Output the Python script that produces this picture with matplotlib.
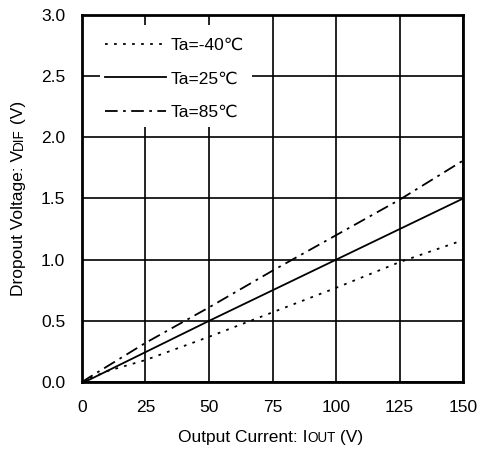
import matplotlib
matplotlib.use("Agg")
import matplotlib.pyplot as plt
from matplotlib.patches import Rectangle

plt.rcParams["font.family"] = ["Liberation Sans", "DejaVu Sans"]

# output current (mA) and dropout voltage (V) per temperature
i_m40 = [0, 3, 10, 25, 50, 75, 100, 125, 150]
v_m40 = [0, 0.03, 0.09, 0.18, 0.37, 0.57, 0.77, 0.98, 1.16]
i_25 = [0, 3, 50, 100, 150]
v_25 = [0, 0.02, 0.50, 1.00, 1.50]
i_85 = [0, 3, 25, 50, 75, 100, 125, 150]
v_85 = [0, 0.04, 0.32, 0.61, 0.91, 1.20, 1.49, 1.81]

x_ticks = [0, 25, 50, 75, 100, 125, 150]
y_ticks = [0.0, 0.5, 1.0, 1.5, 2.0, 2.5, 3.0]

FS = 12.5

fig = plt.figure(figsize=(4.79, 4.49), dpi=100)
ax = fig.add_axes([0.171, 0.149, 0.796, 0.818])

ax.plot(i_m40, v_m40, color="black", lw=1.3, ls=(0, (1.5, 3.5)), label="Ta=-40℃", zorder=3)
ax.plot(i_25, v_25, color="black", lw=1.3, ls="-", label="Ta=25℃", zorder=3)
ax.plot(i_85, v_85, color="black", lw=1.3, ls=(0, (7, 3, 1.5, 3)), label="Ta=85℃", zorder=3)

ax.set_xlim(0, 150)
ax.set_ylim(0, 3.0)
ax.set_xticks(x_ticks)
ax.set_yticks(y_ticks)
ax.set_yticklabels([f"{v:.1f}" for v in y_ticks])
ax.grid(True, color="black", lw=1.2, zorder=1)
ax.set_axisbelow(True)
ax.tick_params(length=0, labelsize=FS, colors="black")
ax.tick_params(axis="y", pad=12)
ax.tick_params(axis="x", pad=13)
for s in ax.spines.values():
    s.set_linewidth(2)
    s.set_zorder(5)

# white box behind the legend hides the grid
ax.add_patch(Rectangle((0.047, 0.695), 0.399, 0.278, transform=ax.transAxes,
                       facecolor="white", edgecolor="none", zorder=2))
ax.legend(loc="upper left", bbox_to_anchor=(0.060, 0.937), frameon=False,
          fontsize=FS, handlelength=3.5, labelspacing=1.05, borderpad=0,
          borderaxespad=0, handletextpad=0.3)


def label_parts(parts, x0, y0, rot):
    # draw text pieces (with small caps for subscripts) along one baseline
    fig.canvas.draw()
    r = fig.canvas.get_renderer()
    widths = []
    for s, fs in parts:
        t = fig.text(0, 0, s, fontsize=fs)
        widths.append(t.get_window_extent(r).width)
        t.remove()
    pos = -sum(widths) / 2
    for (s, fs), w in zip(parts, widths):
        if rot:
            xy = (x0, y0 + pos)
        else:
            xy = (x0 + pos, y0)
        fig.text(xy[0] / fig.bbox.width, xy[1] / fig.bbox.height, s, fontsize=fs,
                 rotation=90 if rot else 0, rotation_mode="anchor",
                 ha="left", va="baseline")
        pos += w


ax_mid_y = (449 - 15 + 449 - 382) / 2
ax_mid_x = (82 + 463) / 2
label_parts([("Dropout Voltage: V", FS), ("DIF", FS * 0.78), (" (V)", FS)],
            23, ax_mid_y, True)
label_parts([("Output Current: I", FS), ("OUT", FS * 0.78), (" (V)", FS)],
            ax_mid_x - 2, 449 - 442, False)

fig.savefig("out.png", dpi=100)
